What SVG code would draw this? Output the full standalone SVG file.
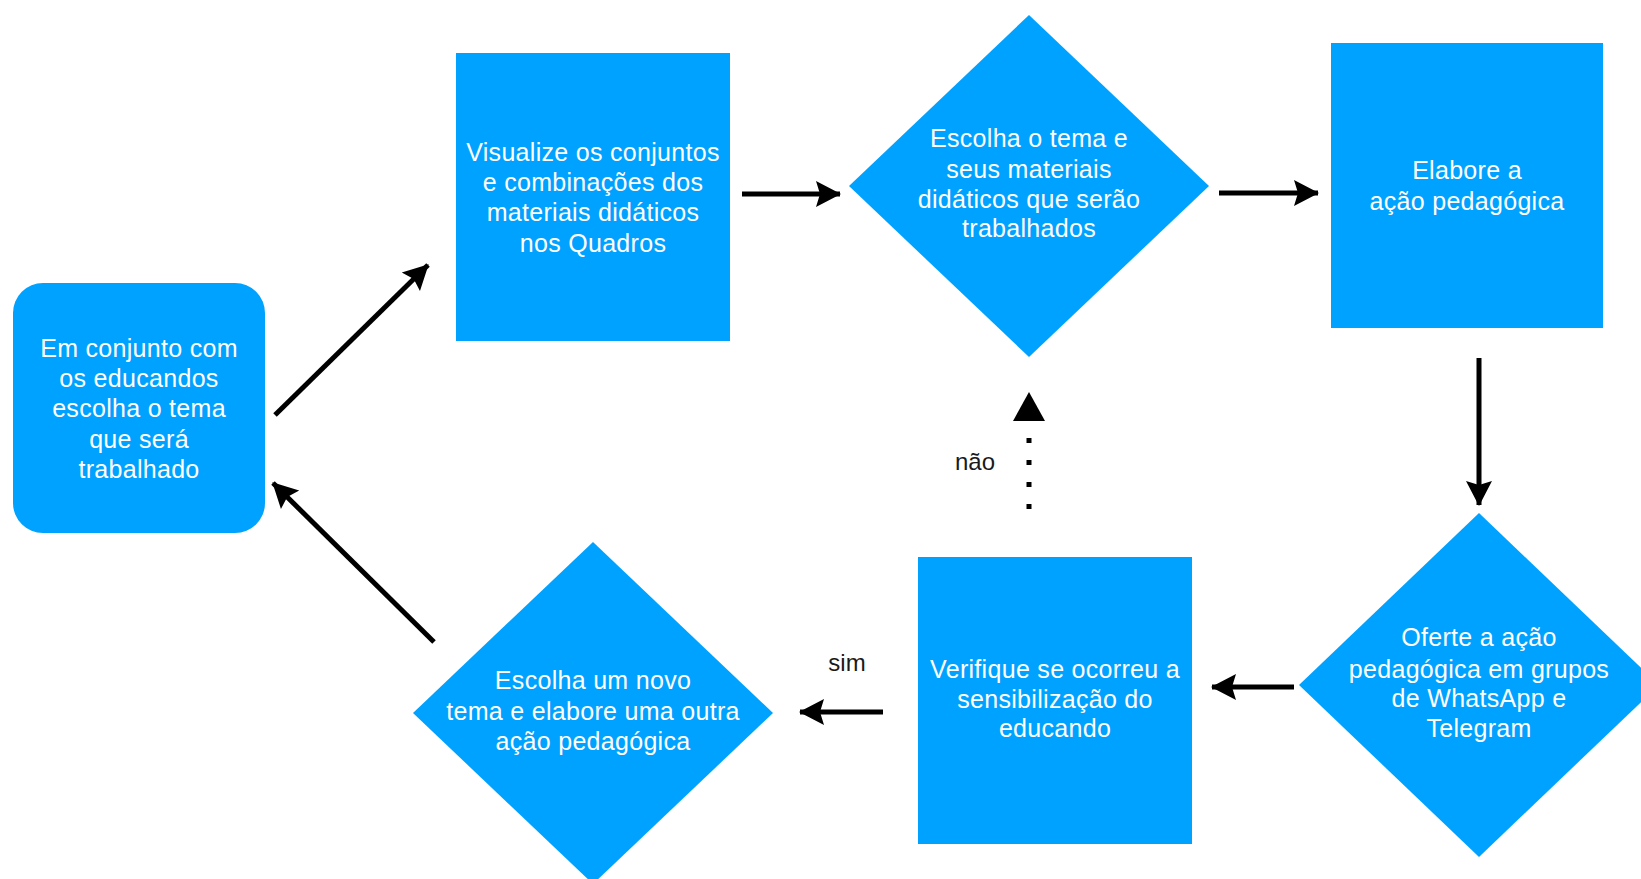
<svg xmlns="http://www.w3.org/2000/svg" width="1641" height="879" viewBox="0 0 1641 879">
<defs>
<style>
.node{fill:#00A2FF;}
.t{font-family:"Liberation Sans",Arial,sans-serif;font-size:25px;letter-spacing:0.3px;fill:#FFFFFF;text-anchor:middle;}
.lbl{font-family:"Liberation Sans",Arial,sans-serif;font-size:24px;fill:#1A1A1A;text-anchor:middle;}
.c{stroke:#000;stroke-width:5;fill:none;}
.dot{stroke:#000;stroke-width:5;fill:none;stroke-dasharray:5 17;}
</style>
<marker id="ah" markerUnits="userSpaceOnUse" markerWidth="28" markerHeight="28" refX="24" refY="14" orient="auto">
<path d="M0,1 L25,14 L0,27 L4,14 Z" fill="#000"/>
</marker>
</defs>
<rect width="1641" height="879" fill="#FFFFFF"/>
<g id="connectors">
<line class="c" x1="275" y1="415" x2="428" y2="265" marker-end="url(#ah)"/>
<line class="c" x1="742" y1="194" x2="840" y2="194" marker-end="url(#ah)"/>
<line class="c" x1="1219" y1="193" x2="1318" y2="193" marker-end="url(#ah)"/>
<line class="c" x1="1479" y1="358" x2="1479" y2="505" marker-end="url(#ah)"/>
<line class="c" x1="1294" y1="687" x2="1212" y2="687" marker-end="url(#ah)"/>
<line class="c" x1="883" y1="712" x2="800" y2="712" marker-end="url(#ah)"/>
<line class="c" x1="434" y1="642" x2="273" y2="483" marker-end="url(#ah)"/>
<line class="dot" x1="1029" y1="509" x2="1029" y2="424"/>
<path d="M1029,392 L1045,421 L1013,421 Z" fill="#000"/>
<text class="lbl" x="975" y="470">não</text>
<text class="lbl" x="847" y="671">sim</text>
</g>
<g id="n1">
<rect class="node" x="13" y="283" width="252" height="250" rx="30" ry="30"/>
<text class="t" x="139" y="357">Em conjunto com</text>
<text class="t" x="139" y="387">os educandos</text>
<text class="t" x="139" y="417">escolha o tema</text>
<text class="t" x="139" y="448">que será</text>
<text class="t" x="139" y="478">trabalhado</text>
</g>
<g id="n2">
<rect class="node" x="456" y="53" width="274" height="288"/>
<text class="t" x="593" y="161">Visualize os conjuntos</text>
<text class="t" x="593" y="191">e combinações dos</text>
<text class="t" x="593" y="221">materiais didáticos</text>
<text class="t" x="593" y="252">nos Quadros</text>
</g>
<g id="n3">
<polygon class="node" points="1029,15 1209,186 1029,357 849,186"/>
<text class="t" x="1029" y="147">Escolha o tema e</text>
<text class="t" x="1029" y="178">seus materiais</text>
<text class="t" x="1029" y="208">didáticos que serão</text>
<text class="t" x="1029" y="237">trabalhados</text>
</g>
<g id="n4">
<rect class="node" x="1331" y="43" width="272" height="285"/>
<text class="t" x="1467" y="179">Elabore a</text>
<text class="t" x="1467" y="210">ação pedagógica</text>
</g>
<g id="n5">
<polygon class="node" points="1479,513 1659,685 1479,857 1299,685"/>
<text class="t" x="1479" y="646">Oferte a ação</text>
<text class="t" x="1479" y="678">pedagógica em grupos</text>
<text class="t" x="1479" y="707">de WhatsApp e</text>
<text class="t" x="1479" y="737">Telegram</text>
</g>
<g id="n6">
<rect class="node" x="918" y="557" width="274" height="287"/>
<text class="t" x="1055" y="678">Verifique se ocorreu a</text>
<text class="t" x="1055" y="708">sensibilização do</text>
<text class="t" x="1055" y="737">educando</text>
</g>
<g id="n7">
<polygon class="node" points="593,542 773,713 593,884 413,713"/>
<text class="t" x="593" y="689">Escolha um novo</text>
<text class="t" x="593" y="720">tema e elabore uma outra</text>
<text class="t" x="593" y="750">ação pedagógica</text>
</g>
</svg>
